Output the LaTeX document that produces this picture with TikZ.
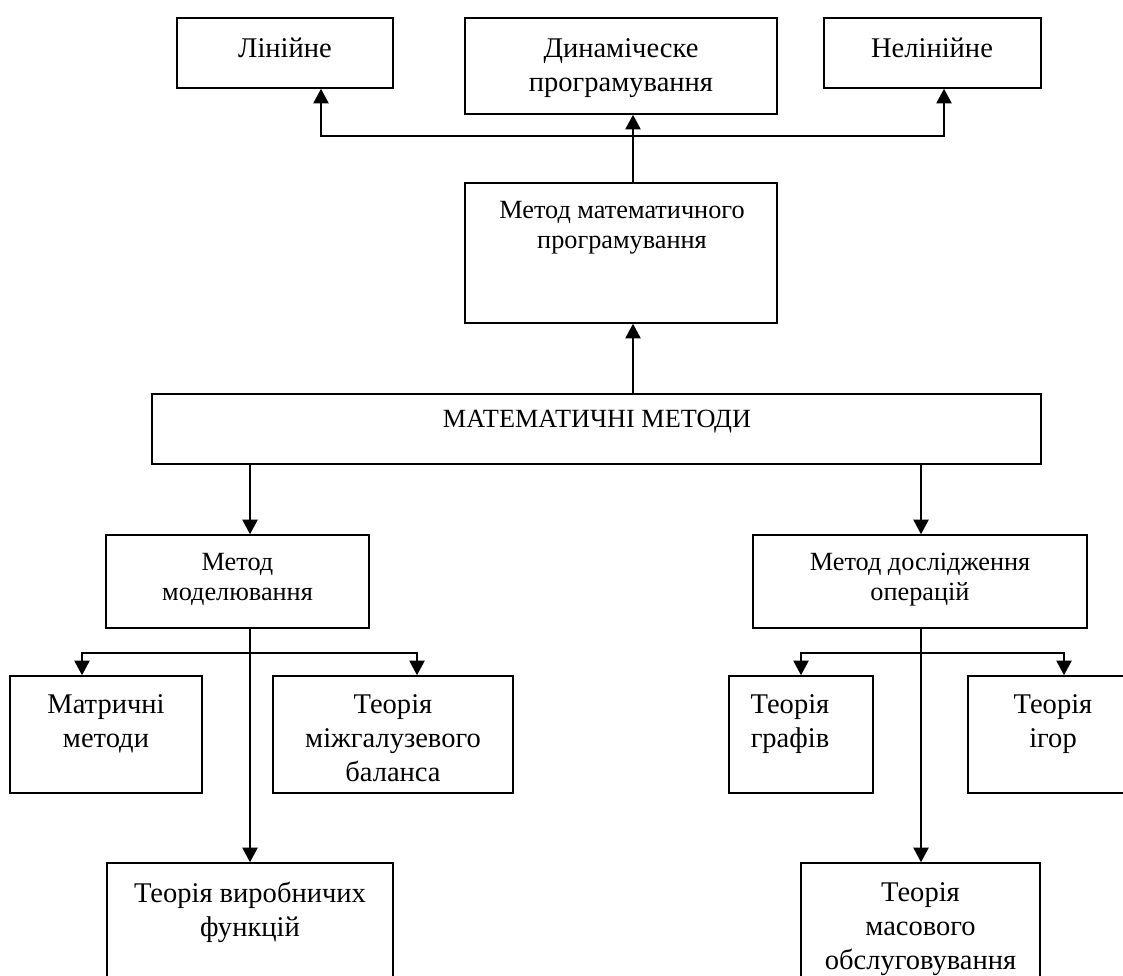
\documentclass[tikz,border=0pt]{standalone}
\usepackage{fontspec}
\setmainfont{Liberation Serif}
\usetikzlibrary{arrows.meta,fit}
\newcommand\mylines[1]{\begin{tabular}[t]{@{}c@{}}#1\end{tabular}}
\begin{document}
\begin{tikzpicture}[x=0.75pt,y=-0.75pt,
  box/.style={draw, line width=1.2pt, inner sep=0pt},
  big/.style={anchor=base, inner sep=0pt, font=\fontsize{21.4pt}{25.5pt}\selectfont},
  small/.style={anchor=base, inner sep=0pt, font=\fontsize{19.7pt}{23pt}\selectfont},
  arr/.style={line width=1.2pt, -{Triangle[length=11pt,width=11.5pt]}},
  ln/.style={line width=1.2pt}]
\useasboundingbox (0,0) rectangle (1123,975);
\clip (0,0) rectangle (1123,975);
% boxes
\node[box, fit={(177,18) (393,88)}] (lin) {};
\node[box, fit={(465,18) (777,114)}] (dyn) {};
\node[box, fit={(824,18) (1041,88)}] (nel) {};
\node[box, fit={(465,183) (777,323)}] (mmp) {};
\node[box, fit={(152,394) (1041,464)}] (mm) {};
\node[box, fit={(106,535) (369,628)}] (mod) {};
\node[box, fit={(753,535) (1087,628)}] (dos) {};
\node[box, fit={(10,676) (202,793)}] (mat) {};
\node[box, fit={(273,676) (513,793)}] (mgb) {};
\node[box, fit={(729,676) (873,793)}] (gr) {};
\node[box, fit={(968,676) (1145,793)}] (ig) {};
\node[box, fit={(107,863) (393,1000)}] (vf) {};
\node[box, fit={(801,863) (1040,1000)}] (mo) {};
% texts
\node[big] (tlin) at (285,57) {Лінійне};
\node[big] (tdyn) at (621,57) {\mylines{Динаміческе\\програмування}};
\node[big] (tnel) at (932,57) {Нелінійне};
\node[small] (tmmp) at (622,218) {\mylines{Метод математичного\\програмування}};
\node[small] (tmm) at (597,427) {МАТЕМАТИЧНІ МЕТОДИ};
\node[small] (tmod) at (237.5,570) {\mylines{Метод\\моделювання}};
\node[small] (tdos) at (920,570) {\mylines{Метод дослідження\\операцій}};
\node[big] (tmat) at (106,713) {\mylines{Матричні\\методи}};
\node[big] (tmgb) at (393,713) {\mylines{Теорія\\міжгалузевого\\баланса}};
\node[big] (tgr) at (790,713) {\mylines{Теорія\\графів}};
\node[big] (tig) at (1053,713) {\mylines{Теорія\\ігор}};
\node[big] (tvf) at (250,902) {\mylines{Теорія виробничих\\функцій}};
\node[big] (tmo) at (920.5,901) {\mylines{Теорія\\масового\\обслуговування}};
% junctions
\coordinate (j1) at (633,136);
\coordinate (c1) at (321,136);
\coordinate (c2) at (944,136);
\coordinate (j2) at (250,653);
\coordinate (c3) at (82,653);
\coordinate (c4) at (417,653);
\coordinate (j3) at (921,653);
\coordinate (c5) at (801,653);
\coordinate (c6) at (1064,653);
% connectors
\draw[arr] (mmp.north -| j1) -- (dyn.south -| j1);
\draw[arr] (j1) -- (c1) -- (c1 |- lin.south);
\draw[arr] (j1) -- (c2) -- (c2 |- nel.south);
\draw[arr] (mm.north -| j1) -- (mmp.south -| j1);
\draw[arr] (mm.south -| j2) -- (mod.north -| j2);
\draw[arr] (mm.south -| j3) -- (dos.north -| j3);
\draw[arr] (mod.south -| j2) -- (vf.north -| j2);
\draw[arr] (j2) -- (c3) -- (c3 |- mat.north);
\draw[arr] (j2) -- (c4) -- (c4 |- mgb.north);
\draw[arr] (dos.south -| j3) -- (mo.north -| j3);
\draw[arr] (j3) -- (c5) -- (c5 |- gr.north);
\draw[arr] (j3) -- (c6) -- (c6 |- ig.north);
\end{tikzpicture}
\end{document}
